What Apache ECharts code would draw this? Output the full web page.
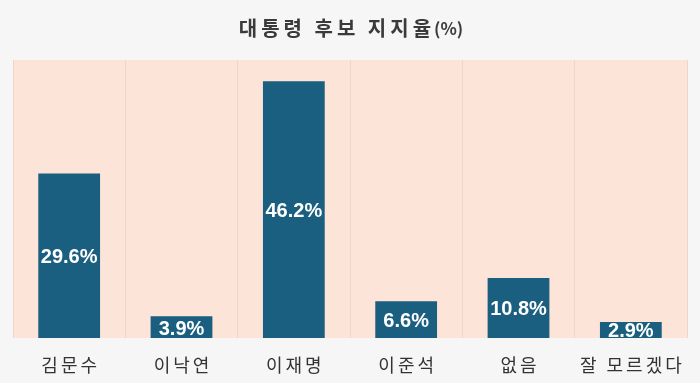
<!DOCTYPE html>
<html><head><meta charset="utf-8">
<script src="https://cdn.jsdelivr.net/npm/echarts@6/dist/echarts.min.js"></script>
<style>html,body{margin:0;padding:0;background:#f6f6f6;}#c{width:700px;height:383px;}</style>
</head><body><div id="c"></div>
<script>
const titleMain = '대통령 후보 지지율';
const titleUnit = '(%)';
const categories = ['김문수','이낙연','이재명','이준석','없음','잘 모르겠다'];
const values = [29.6, 3.9, 46.2, 6.6, 10.8, 2.9];

function spaced(str, style) {
  return str.split('').map(c => c === ' ' ? '{' + style + 'sp| }' : '{' + style + '|' + c + '}').join('');
}
const chart = echarts.init(document.getElementById('c'));
chart.setOption({
  backgroundColor: '#f6f6f6',
  animation: false,
  title: {
    text: spaced(titleMain, 'a') + '{b|' + titleUnit + '}',
    left: 'center', top: 13,
    textStyle: {
      rich: {
        a: {fontFamily: 'Noto Sans CJK KR', fontSize: 20, fontWeight: 'bold', color: '#3a3a3a', padding: [0, 2]},
        asp: {fontFamily: 'Noto Sans CJK KR', fontSize: 20, color: '#3a3a3a', padding: [0, 2]},
        b: {fontFamily: 'Noto Sans CJK KR', fontSize: 17, fontWeight: 'bold', color: '#3a3a3a', padding: [2, 0, 0, 1]}
      }
    }
  },
  grid: {left: 13, right: 13, top: 60, bottom: 45, show: true, backgroundColor: '#fde4d8', borderWidth: 0},
  xAxis: {
    type: 'category', data: categories,
    axisLine: {show: false}, axisTick: {show: false},
    splitLine: {show: true, interval: 0, lineStyle: {color: '#f3d3c6', width: 1}},
    axisLabel: {
      interval: 0,
      margin: 18,
      formatter: v => spaced(v, 's'),
      rich: {
        s: {fontFamily: 'Noto Sans CJK KR', fontSize: 18, color: '#333', padding: [0, 1.5]},
        ssp: {fontFamily: 'Noto Sans CJK KR', fontSize: 18, color: '#333', padding: [0, 1.5]}
      }
    }
  },
  yAxis: {type: 'value', min: 0, max: 50, show: false, splitLine: {show: false}},
  series: [{
    type: 'bar', data: values, barWidth: '55%',
    itemStyle: {color: '#1a5e80'},
    label: {show: true, position: 'inside', offset: [0, 2], formatter: p => p.value + '%',
      color: '#fff', fontFamily: 'Liberation Sans', fontWeight: 'bold', fontSize: 20}
  }]
});
</script></body></html>
